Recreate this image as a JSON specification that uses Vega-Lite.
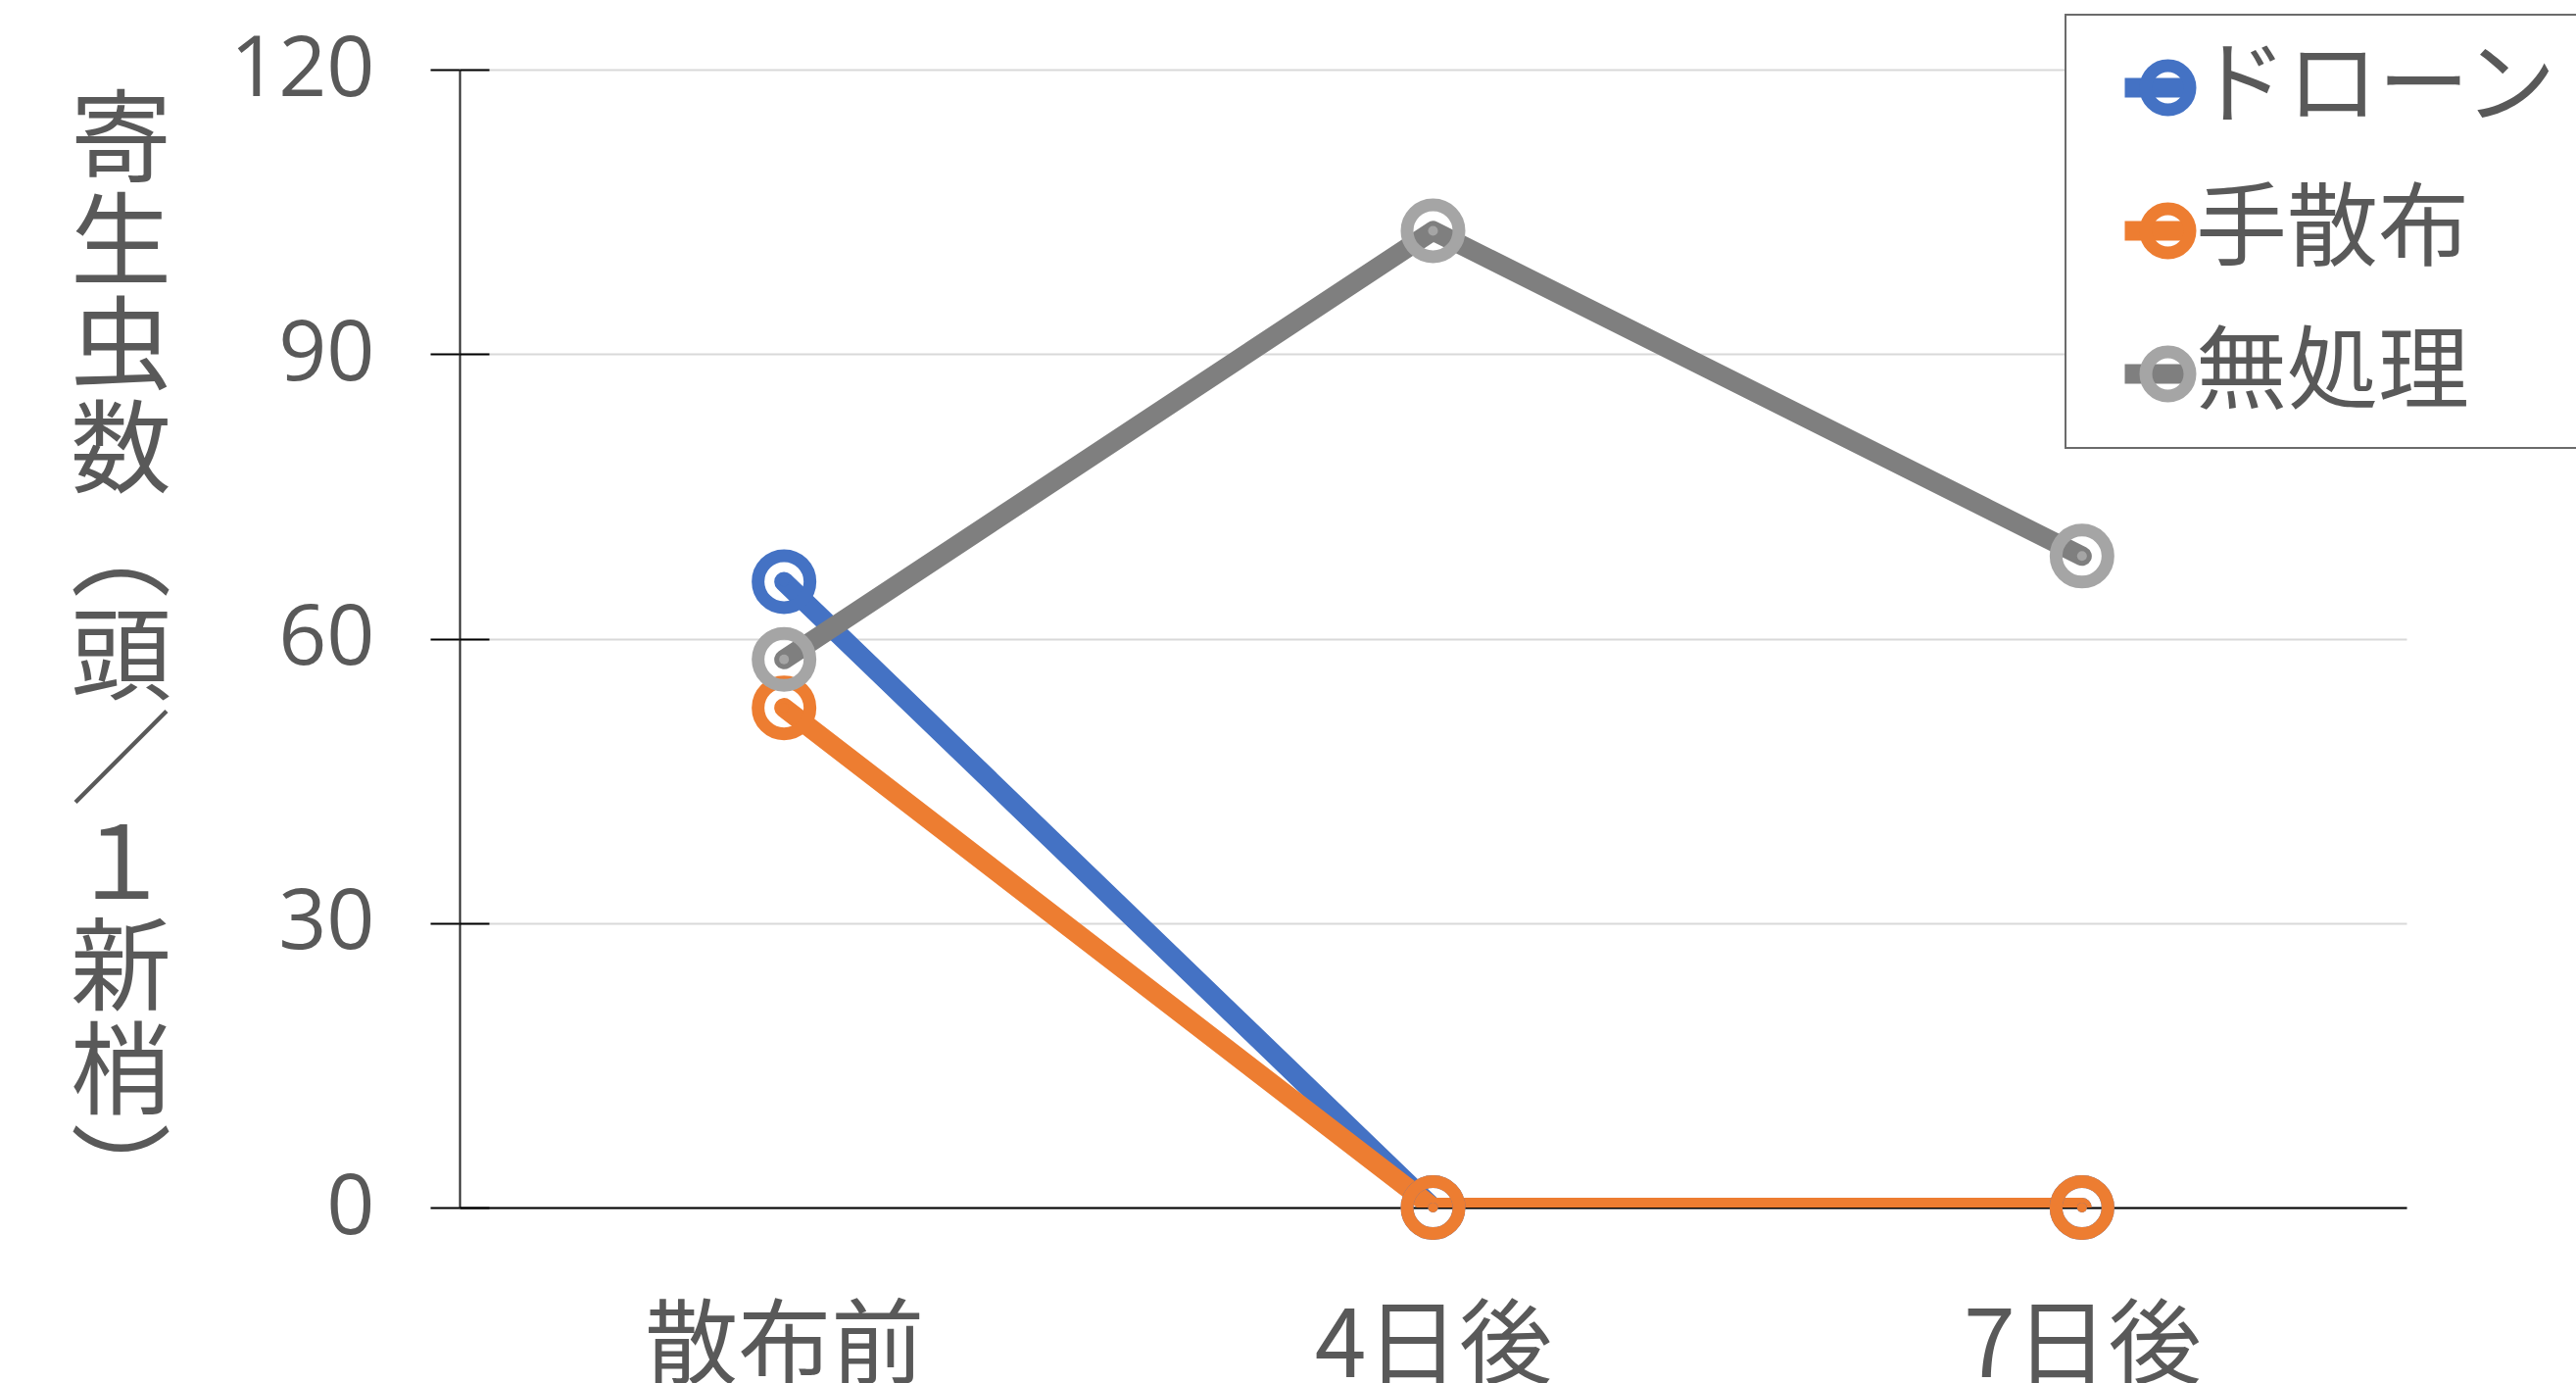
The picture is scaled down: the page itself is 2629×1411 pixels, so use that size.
{
  "$schema": "https://vega.github.io/schema/vega-lite/v6.json",
  "autosize": "none",
  "width": 1987,
  "height": 1161,
  "padding": {"left": 469, "top": 71, "right": 173, "bottom": 179},
  "background": "white",
  "data": {"values": [
    {"time": "散布前", "series": "ドローン", "value": 66.0},
    {"time": "4日後", "series": "ドローン", "value": 0},
    {"time": "7日後", "series": "ドローン", "value": 0},
    {"time": "散布前", "series": "手散布", "value": 52.7},
    {"time": "4日後", "series": "手散布", "value": 0},
    {"time": "7日後", "series": "手散布", "value": 0},
    {"time": "散布前", "series": "無処理", "value": 57.8},
    {"time": "4日後", "series": "無処理", "value": 103.0},
    {"time": "7日後", "series": "無処理", "value": 68.7}
  ]},
  "config": {
    "view": {"stroke": null},
    "font": "Noto Sans CJK JP",
    "legend": {"strokeWidth": 2}
  },
  "encoding": {
    "x": {
      "field": "time", "type": "nominal", "sort": ["散布前", "4日後", "7日後"],
      "scale": {"type": "point", "padding": 0.5},
      "axis": {
        "title": null, "labelAngle": 0, "ticks": false, "tickSize": 0, "grid": false,
        "domainColor": "#000000", "domainWidth": 2,
        "labelFont": "Noto Sans CJK JP", "labelFontSize": 95, "labelColor": "#595959",
        "labelBaseline": "alphabetic", "labelPadding": 172, "labelLimit": 0
      }
    }
  },
  "resolve": {"axis": {"y": "independent"}},
  "layer": [
    {
      "mark": {"type": "line", "strokeWidth": 20, "strokeCap": "round", "strokeJoin": "round", "clip": true},
      "encoding": {
        "y": {
          "field": "value", "type": "quantitative",
          "scale": {"domain": [0, 120], "nice": false, "zero": true},
          "axis": {
            "orient": "left",
            "values": [0, 30, 60, 90, 120],
            "title": ["寄", "生", "虫", "数", "︵", "頭", "／", "１", "新", "梢", "︶"],
            "titleAngle": 0, "titleAlign": "center", "titleBaseline": "top",
            "titleX": -346, "titleY": 25, "titleLineHeight": 105.7,
            "titleFont": "Noto Sans CJK JP", "titleFontSize": 103, "titleFontWeight": "normal", "titleColor": "#595959",
            "domainColor": "#262626", "domainWidth": 2,
            "tickColor": "#000000", "tickWidth": 2, "tickSize": 30,
            "grid": true, "gridColor": "#d9d9d9", "gridWidth": 2,
            "labelFont": "Open Sans", "labelFontSize": 86, "labelColor": "#595959", "labelPadding": 57
          }
        },
        "color": {
          "field": "series", "type": "nominal",
          "scale": {"domain": ["ドローン", "手散布", "無処理"], "range": ["#4472c4", "#ed7d31", "#7f7f7f"]},
          "legend": {
            "orient": "none", "legendX": 1639, "legendY": -56, "title": null,
            "padding": 28, "rowPadding": 52,
            "strokeColor": "#6b6b6b", "fillColor": "white",
            "symbolType": "M-1,0L1,0", "symbolSize": 4624, "symbolStrokeWidth": 20, "symbolOffset": 20,
            "labelFont": "Noto Sans CJK JP", "labelFontSize": 93, "labelColor": "#595959",
            "labelOffset": -8, "labelLimit": 0
          }
        }
      }
    },
    {
      "mark": {"type": "point", "filled": false, "strokeWidth": 13, "size": 2809, "opacity": 1},
      "encoding": {
        "y": {
          "field": "value", "type": "quantitative",
          "axis": {
            "orient": "left", "values": [0, 30, 60, 90, 120], "title": null,
            "labels": false, "domain": false, "grid": false,
            "tickColor": "#000000", "tickWidth": 2, "tickSize": -30
          }
        },
        "stroke": {
          "field": "series", "type": "nominal",
          "scale": {"domain": ["ドローン", "手散布", "無処理", " "], "range": ["#4472c4", "#ed7d31", "#a5a5a5", "#ffffff"]},
          "legend": {
            "values": ["ドローン", "手散布", "無処理"],
            "orient": "none", "legendX": 1639, "legendY": -56, "title": null,
            "padding": 28, "rowPadding": 49,
            "symbolType": "circle", "symbolSize": 2025, "symbolStrokeWidth": 13, "symbolOffset": 30,
            "symbolFillColor": "transparent",
            "labelFont": "Noto Sans CJK JP", "labelFontSize": 93, "labelColor": "#595959",
            "labelOpacity": 0, "labelOffset": -8, "labelLimit": 0
          }
        }
      }
    },
    {
      "mark": {"type": "point", "filled": true, "size": 100, "opacity": 1, "strokeWidth": 0},
      "encoding": {
        "y": {"field": "value", "type": "quantitative", "axis": null},
        "fill": {
          "field": "series", "type": "nominal",
          "scale": {"domain": ["ドローン", "手散布", "無処理", "  "], "range": ["#4472c4", "#ed7d31", "#a5a5a5", "#ffffff"]},
          "legend": null
        }
      }
    }
  ]
}
